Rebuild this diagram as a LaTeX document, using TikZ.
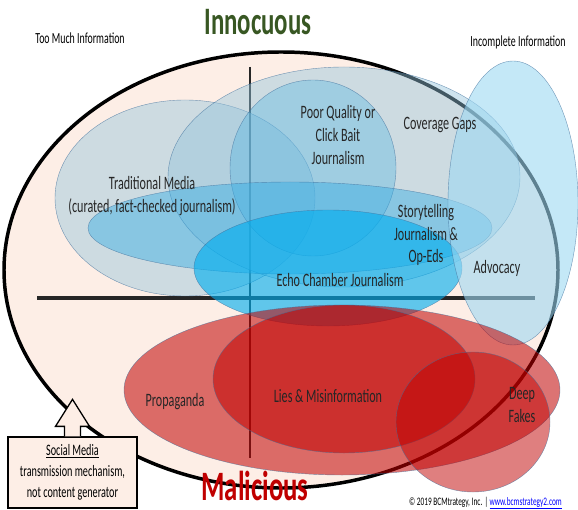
\documentclass[tikz,border=0pt]{standalone}
\usepackage{fontspec}
\setmainfont[FakeStretch=0.64]{Carlito}
\usetikzlibrary{positioning}

\definecolor{peach}{HTML}{FDEEE6}
\definecolor{edgeblue}{HTML}{41719C}
\definecolor{paleblue}{HTML}{94C4DC}
\definecolor{midblue}{HTML}{36ADE4}
\definecolor{brightblue}{HTML}{00AEEF}
\definecolor{skyblue}{HTML}{9DD8F2}
\definecolor{darkred}{HTML}{C00000}
\definecolor{leafgreen}{HTML}{385723}
\definecolor{inkgray}{HTML}{262626}

\tikzset{
  zone/.style={draw=edgeblue, draw opacity=0.7, thin},
  bluezone/.style={zone, fill=#1, fill opacity=0.45},
  redzone/.style={zone, fill=darkred, fill opacity=#1},
  lbl/.style={font=\fontsize{19}{23}\selectfont, text=inkgray, align=center, inner sep=1pt},
  corner/.style={font=\fontsize{15.5}{18}\selectfont, text=black, inner sep=1pt},
  axis/.style={line width=4pt, draw=black!85}
}

\begin{document}
\begin{tikzpicture}[x=1bp,y=-1bp]
\useasboundingbox (0,0) rectangle (578,510);

% outer field
\draw[line width=3.5pt, fill=peach] (281,270) ellipse [x radius=277bp, y radius=218bp];

% quadrant axes
\draw[axis] (37,298) -- (535,298);
\draw[axis, line width=3pt] (250,67) -- (250,458);

% innocuous side
\draw[bluezone=paleblue] (185,198) ellipse [x radius=130bp, y radius=98bp];
\draw[bluezone=paleblue] (344,177) ellipse [x radius=176bp, y radius=110bp];
\draw[bluezone=midblue, fill opacity=0.3] (313,168) ellipse [x radius=83bp, y radius=88bp];
\draw[bluezone=midblue] (290,228) ellipse [x radius=202bp, y radius=46bp];
\draw[bluezone=brightblue, fill opacity=0.62] (328,268) ellipse [x radius=134bp, y radius=58bp];
\draw[bluezone=skyblue, fill opacity=0.6] (513,203) ellipse [x radius=65bp, y radius=142bp];

% malicious side
\draw[redzone=0.55] (342,390) ellipse [x radius=218bp, y radius=85bp];
\draw[redzone=0.55] (344,379) ellipse [x radius=131bp, y radius=74bp];
\draw[redzone=0.5] (473,422) ellipse [x radius=77bp, y radius=70bp];

% headings
\node[font=\fontsize{39}{40}\selectfont\bfseries, text=leafgreen] (inno) at (258,22) {Innocuous};
\node[font=\fontsize{42}{42}\selectfont\bfseries, text=darkred] (mali) at (255,486) {Malicious};
\node[corner] (toomuch) at (80,38) {Too Much Information};
\node[corner] (incomplete) at (518,42) {Incomplete Information};

% zone labels
\node[lbl] (trad) at (152,196) {Traditional Media\\(curated, fact-checked journalism)};
\node[lbl] (poor) at (338,135) {Poor Quality or\\Click Bait\\Journalism};
\node[lbl] (gaps) at (440,125) {Coverage Gaps};
\node[lbl] (story) at (426,235) {Storytelling\\Journalism \&\\Op-Eds};
\node[lbl] (echo) at (340,280) {Echo Chamber Journalism};
\node[lbl] (advo) at (497,268) {Advocacy};
\node[lbl] (prop) at (175,402) {Propaganda};
\node[lbl] (lies) at (328,396) {Lies \& Misinformation};
\node[lbl] (fakes) at (522,405) {Deep\\Fakes};

% social media callout
\node[draw, line width=1.3pt, fill=peach, minimum width=129bp, minimum height=71bp, inner sep=0pt,
      align=center, font=\fontsize{16}{21}\selectfont] (social) at (72.5,472.5)
  {\underline{Social Media}\\transmission mechanism,\\not content generator};
\draw[line width=1.3pt, fill=peach] ([xshift=-8bp]social.north) -- ++(0,10bp) -- ++(-9bp,0)
  -- ([yshift=37bp]social.north) -- ++(17bp,-27bp) -- ++(-9bp,0) -- ([xshift=8bp]social.north);

\node[font=\fontsize{11.5}{12}\selectfont, anchor=east, inner sep=0pt] (credit) at (562,503)
  {\textcopyright{} 2019 BCMtrategy, Inc. | \textcolor{blue}{\underline{www.bcmstrategy2.com}}};

\end{tikzpicture}
\end{document}
